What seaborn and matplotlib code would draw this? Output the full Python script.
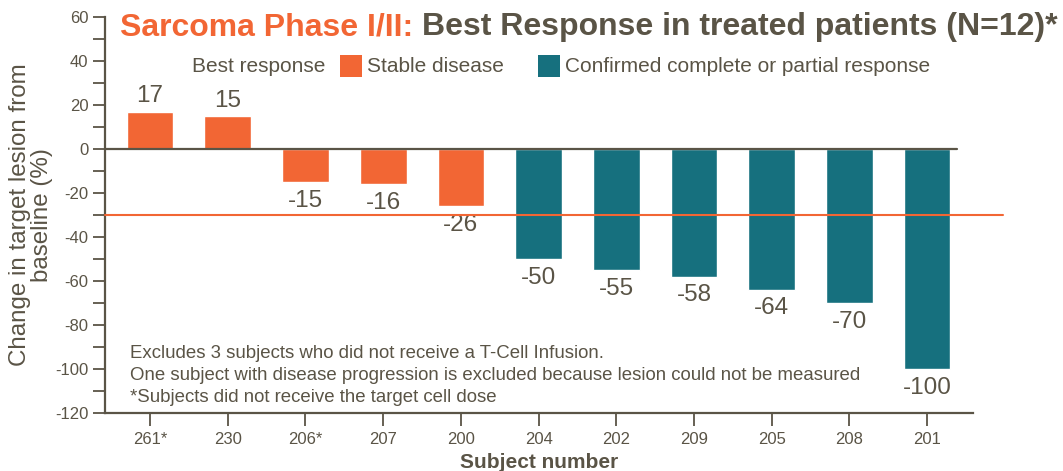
import matplotlib
matplotlib.use("Agg")
import matplotlib.pyplot as plt
from matplotlib.patches import Rectangle
from matplotlib.ticker import MultipleLocator
import pandas as pd
import seaborn as sns

# data
subjects = ["261*", "230", "206*", "207", "200", "204", "202", "209", "205", "208", "201"]
change_pct = [17, 15, -15, -16, -26, -50, -55, -58, -64, -70, -100]
response = ["Stable disease"] * 5 + ["Confirmed complete or partial response"] * 6
threshold = -30

ORANGE = "#F26634"
TEAL = "#16707E"
TXT = "#5A5446"

df = pd.DataFrame({"subject": subjects, "change": change_pct, "response": response})
palette = {"Stable disease": ORANGE, "Confirmed complete or partial response": TEAL}

sns.set_style("ticks")
plt.rcParams["font.family"] = ["Liberation Sans", "DejaVu Sans"]
plt.rcParams["axes.unicode_minus"] = False

W, H = 1063, 471
fig = plt.figure(figsize=(W / 100, H / 100), dpi=100)
ax = fig.add_axes([105 / W, 1 - 413 / H, 868 / W, 396 / H])

sns.barplot(data=df, x="subject", y="change", hue="response", palette=palette,
            dodge=False, width=0.6, saturation=1, legend=False, ax=ax)

ax.set_xlim(-0.58, 10.59)
ax.set_ylim(-120, 60)
ax.yaxis.set_major_locator(MultipleLocator(20))
ax.yaxis.set_minor_locator(MultipleLocator(10))

for s in ["top", "right"]:
    ax.spines[s].set_visible(False)
for s in ["left", "bottom"]:
    ax.spines[s].set_color(TXT)
    ax.spines[s].set_linewidth(1.6)

ax.tick_params(axis="y", which="both", length=9, width=1.3, color=TXT,
               labelsize=12, labelcolor=TXT, pad=3)
ax.tick_params(axis="x", length=9, width=1.3, color=TXT,
               labelsize=12, labelcolor=TXT, pad=5)

# zero line and threshold line
ax.axhline(0, xmin=0, xmax=0.982, color=TXT, lw=1.6, zorder=3)
ax.axhline(threshold, xmin=0, xmax=1.035, color=ORANGE, lw=1.5, zorder=4, clip_on=False)

# value labels
for i, v in enumerate(change_pct):
    if v >= 0:
        ax.text(i, v + 2, str(v), ha="center", va="bottom", fontsize=17.5, color=TXT)
    else:
        ax.text(i, v - 3.5, str(v), ha="center", va="top", fontsize=17.5, color=TXT)

ax.set_xlabel("Subject number", fontsize=15, fontweight="bold", color=TXT)
ax.xaxis.set_label_coords(0.5, -0.1)
ax.set_ylabel("Change in target lesion from\nbaseline (%)", fontsize=17.4, color=TXT,
              linespacing=1.0)
ax.yaxis.set_label_coords(-0.06, 0.5)

# footnotes
notes = ["Excludes 3 subjects who did not receive a T-Cell Infusion.",
         "One subject with disease progression is excluded because lesion could not be measured",
         "*Subjects did not receive the target cell dose"]
for k, line in enumerate(notes):
    fig.text(130 / W, 1 - (353 + 22.5 * k) / H, line, fontsize=13.4, color=TXT, va="center")

fig.canvas.draw()
r = fig.canvas.get_renderer()

# legend, laid out left to right
ly = 1 - 66 / H
x = 192
t = fig.text(x / W, ly, "Best response", fontsize=15, color=TXT, va="center")
x = t.get_window_extent(renderer=r).x1 + 15
for lab in ["Stable disease", "Confirmed complete or partial response"]:
    fig.patches.append(Rectangle((x / W, (H - 77) / H), 22 / W, 22 / H,
                                 transform=fig.transFigure, facecolor=palette[lab],
                                 edgecolor="none"))
    t = fig.text((x + 27) / W, ly, lab, fontsize=15, color=TXT, va="center")
    x = t.get_window_extent(renderer=r).x1 + 34

# two-colour title
t1 = fig.text(120 / W, 1 - 27 / H, "Sarcoma Phase I/II: ", fontsize=23,
              fontweight="bold", color=ORANGE, va="center")
bb = t1.get_window_extent(renderer=r)
fig.text(bb.x1 / W, 1 - 27 / H, "Best Response in treated patients (N=12)*",
         fontsize=23, fontweight="bold", color=TXT, va="center")

fig.savefig("out.png", dpi=100)
